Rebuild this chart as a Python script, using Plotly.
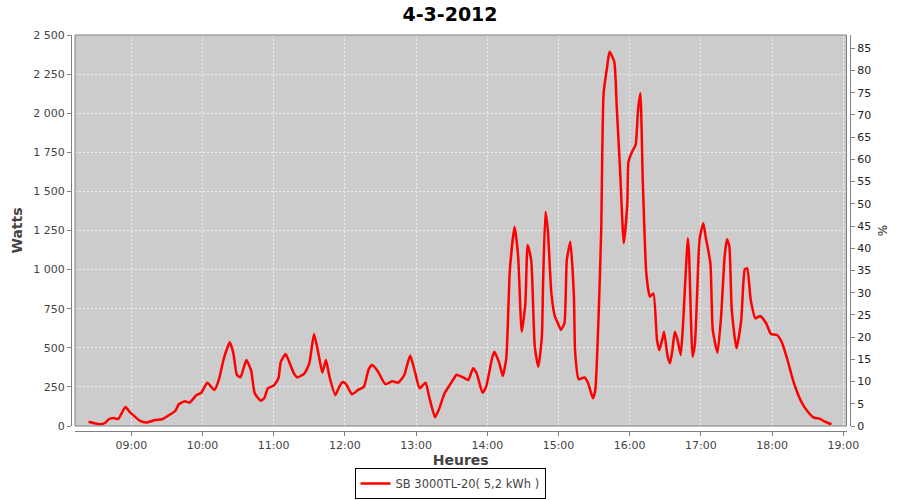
import plotly.graph_objects as go

DAY = "2012-03-04"
times = ["08:24","08:29","08:34","08:38","08:41","08:45","08:49","08:55","08:59","09:03",
         "09:07","09:13","09:20","09:26","09:31","09:37","09:40","09:45","09:49","09:55",
         "09:59","10:04","10:10","10:14","10:18","10:23","10:26","10:29","10:32","10:35",
         "10:37","10:41","10:44","10:49","10:52","10:55","11:00","11:04","11:06","11:10",
         "11:13","11:17","11:20","11:26","11:30","11:34","11:38","11:41","11:44","11:47",
         "11:52","11:55","11:58","12:01","12:06","12:11","12:16","12:20","12:23","12:28",
         "12:34","12:40","12:45","12:50","12:55","12:59","13:03","13:08","13:11","13:16",
         "13:19","13:24","13:28","13:32","13:34","13:40","13:44","13:48","13:51","13:56",
         "13:59","14:04","14:06","14:10","14:13","14:16","14:19","14:23","14:26","14:29",
         "14:32","14:34","14:37","14:40","14:43","14:46","14:47","14:49","14:51","14:54",
         "14:57","14:59","15:02","15:05","15:07","15:10","15:13","15:14","15:17","15:22",
         "15:25","15:29","15:31","15:34","15:36","15:38","15:41","15:43","15:47","15:49",
         "15:52","15:55","15:58","15:59","16:02","16:05","16:07","16:09","16:11","16:14",
         "16:17","16:20","16:23","16:25","16:28","16:29","16:32","16:34","16:36","16:38",
         "16:40","16:43","16:45","16:49","16:50","16:53","16:55","16:58","16:59","17:02",
         "17:04","17:08","17:10","17:14","17:17","17:20","17:22","17:24","17:26","17:30",
         "17:34","17:37","17:39","17:42","17:46","17:50","17:55","17:59","18:04","18:08",
         "18:13","18:16","18:18","18:21","18:25","18:29","18:35","18:40","18:44","18:50"]
watts = [27,17,11,21,43,51,45,121,87,60,
         34,23,38,43,66,96,139,158,149,198,
         213,277,230,302,433,535,465,326,311,379,
         422,354,209,162,177,241,258,305,411,460,
         411,337,311,337,401,588,450,341,422,315,
         198,247,281,268,203,230,251,362,390,347,
         268,286,277,326,450,347,241,277,187,56,
         102,209,258,305,328,309,294,369,337,213,
         251,433,475,405,320,433,997,1274,1083,603,
         774,1157,1061,507,379,571,912,1370,1253,848,
         699,667,614,657,1061,1178,827,475,299,311,
         273,177,230,752,1253,2127,2297,2393,2329,2052,
         1616,1168,1424,1690,1754,1797,2020,2127,1573,976,
         827,848,550,486,571,603,443,401,486,603,
         561,454,657,1200,1104,443,529,1083,1200,1296,
         1211,1040,614,469,699,1083,1194,1147,742,497,
         678,1002,1008,806,689,703,657,588,582,539,
         422,337,283,219,149,102,53,47,30,11]

title = "4-3-2012"
series_name = "SB 3000TL-20( 5,2 kWh )"
x_title = "Heures"
y_title = "Watts"
y2_title = "%"
x_range = [DAY + " 08:12:33", DAY + " 19:02:42"]
y_range = [0, 2500]
y2_range = [0, 88]

x = [DAY + " " + t for t in times]

FONT = "DejaVu Sans"
fig = go.Figure()
fig.add_trace(go.Scatter(
    x=x, y=watts, name=series_name, mode="lines",
    line=dict(color="#ff0000", width=2.5, shape="spline", smoothing=0.5),
    xaxis="x", yaxis="y"))
fig.add_trace(go.Scatter(x=[], y=[], xaxis="x", yaxis="y2", showlegend=False,
                         hoverinfo="skip"))

axis_common = dict(showline=True, linecolor="#808080", linewidth=1,
                   ticks="outside", ticklen=4, tickcolor="#808080",
                   zeroline=False, automargin=False)
GRID = dict(showgrid=True, gridcolor="#eeeeee", griddash="2px,2px", gridwidth=1)

fig.update_layout(
    width=900, height=500,
    paper_bgcolor="white", plot_bgcolor="#cccccc",
    separators=", ",
    margin=dict(l=71, r=50, t=35, b=69, autoexpand=False),
    font=dict(family=FONT, size=11, color="#444444"),
    title=dict(text="<b>" + title + "</b>", x=0.5, xref="container", xanchor="center",
               y=0.972, yref="container", yanchor="middle",
               font=dict(family=FONT, size=19, color="black")),
    xaxis=dict(type="date", range=x_range, domain=[4/779, 775.5/779],
               anchor="free", position=0, tickformat="%H:%M", dtick=3600000,
               tick0=DAY + " 00:00",
               title=dict(text="<b>" + x_title + "</b>", standoff=4,
                          font=dict(family=FONT, size=14, color="#444444")),
               tickfont=dict(family=FONT, size=11, color="#444444"),
               **GRID, **axis_common),
    yaxis=dict(range=y_range, domain=[5/396, 1], anchor="free", position=0,
               dtick=250, tickformat=",d",
               title=dict(text="<b>" + y_title + "</b>", standoff=6,
                          font=dict(family=FONT, size=14, color="#444444")),
               tickfont=dict(family=FONT, size=11, color="#444444"),
               **GRID, **axis_common),
    yaxis2=dict(range=y2_range, overlaying="y", side="right", anchor="free",
                position=1, dtick=5, showgrid=False,
                title=dict(text=y2_title, standoff=8,
                           font=dict(family=FONT, size=12, color="#222222")),
                tickfont=dict(family=FONT, size=11, color="#222222"),
                **axis_common),
    legend=dict(orientation="h", x=0.5, xref="container", xanchor="center",
                y=1/500, yref="container", yanchor="bottom",
                bordercolor="black", borderwidth=1, bgcolor="white",
                itemwidth=30, tracegroupgap=0,
                font=dict(family=FONT, size=11.5, color="#444444")),
    showlegend=True,
)

fig.add_shape(type="rect", xref="x domain", yref="y domain", x0=0, x1=1, y0=0, y1=1,
              line=dict(color="#808080", width=1), fillcolor="rgba(0,0,0,0)",
              layer="above")

fig.write_html("out.html", config={"displayModeBar": False},
               post_script="document.body.style.margin='0px';document.body.style.overflow='hidden';")
